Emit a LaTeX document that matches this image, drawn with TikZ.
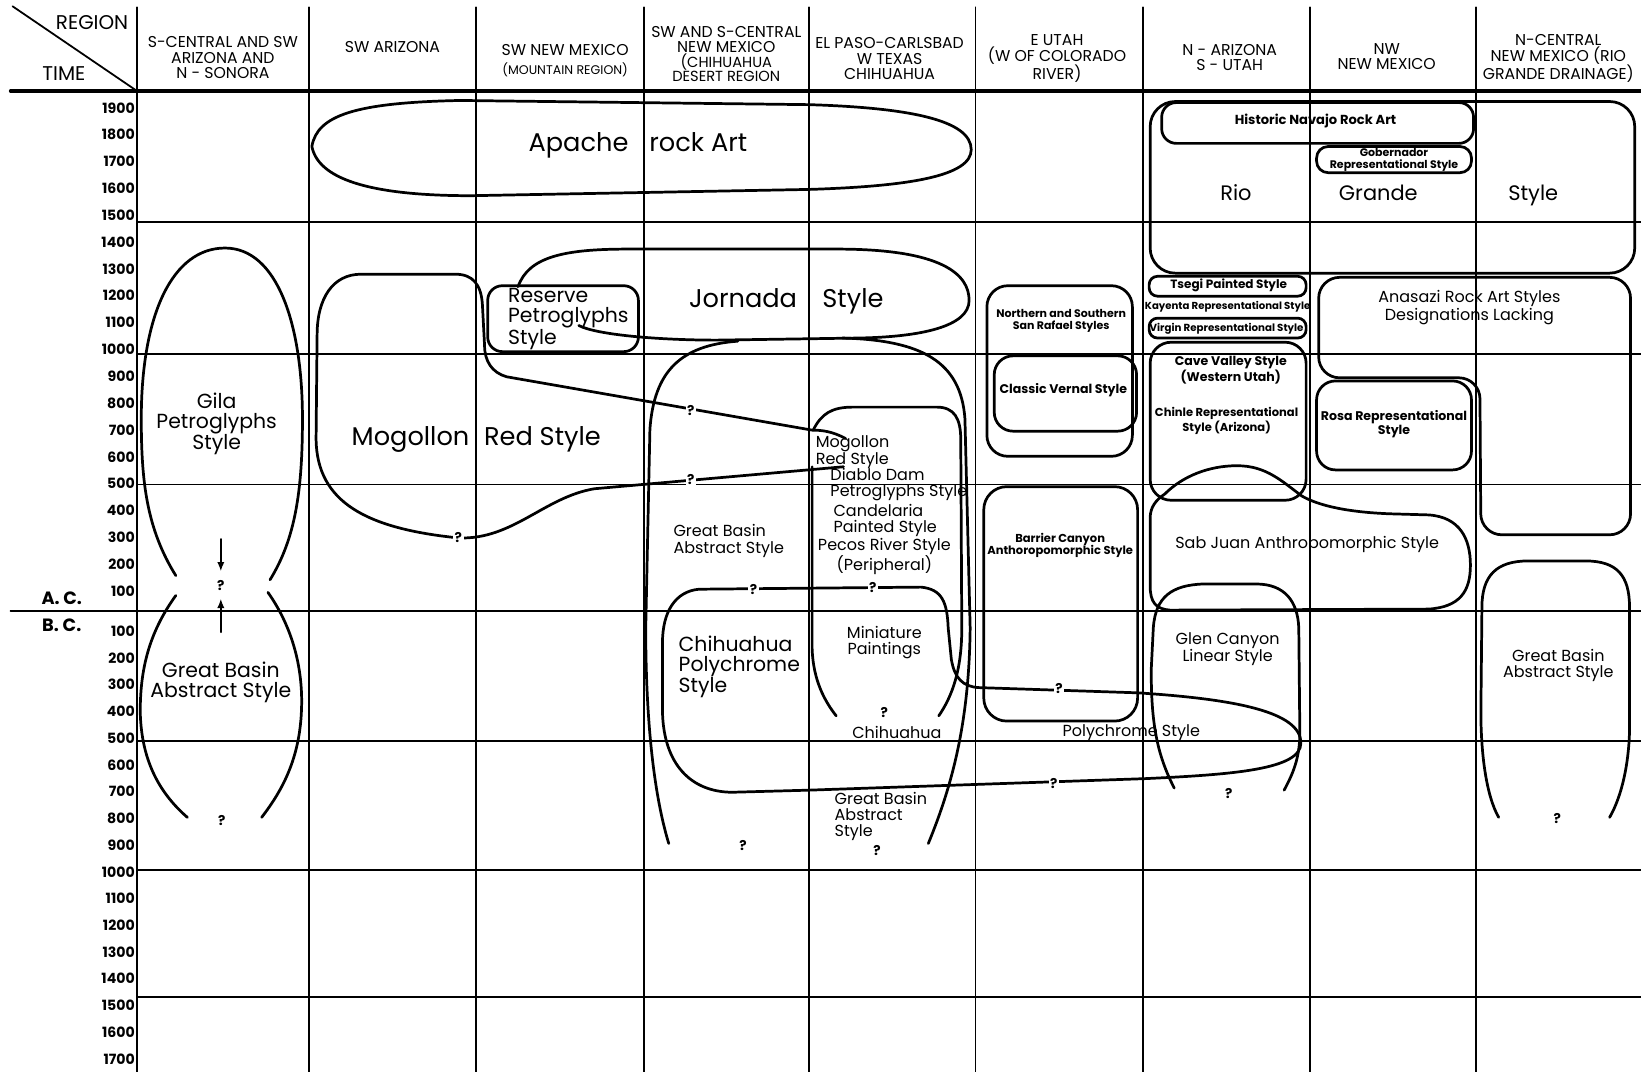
\documentclass[tikz,border=0pt]{standalone}
\usepackage{fontspec}
\setmainfont{Poppins}
\usetikzlibrary{arrows.meta}

\begin{document}
\begin{tikzpicture}[x=1pt,y=-1pt,line join=round,line cap=round]
    \tikzset{rule/.style={line width=1.7pt},
      blob/.style={line width=2.6pt},
      hdr/.style={font=\fontsize{15}{15}\selectfont,align=center},
      yr/.style={font=\bfseries\fontsize{13.5}{13.5}\selectfont,anchor=east,inner sep=0pt},
      lg/.style={font=\fontsize{24.5}{25}\selectfont},
      big/.style={font=\fontsize{19.5}{19}\selectfont,align=center},
      md/.style={font=\fontsize{15.3}{15.5}\selectfont,align=center},
      sm/.style={font=\bfseries\fontsize{11}{12}\selectfont,align=center,inner sep=1pt},
      qm/.style={font=\bfseries\fontsize{13}{13}\selectfont,fill=white,inner sep=1.5pt}}
    \useasboundingbox (0,0) rectangle (1568,1024);
    % grid
    \foreach \x in {131,295,455,615,773,932,1092,1252,1410}
      \draw[rule] (\x,7) -- (\x,1024);
    \foreach \y in {212,338,463,708,831,953}
      \draw[rule] (131,\y) -- (1568,\y);
    \draw[rule] (10,584) -- (1568,584);
    \draw[line width=3pt] (10,87) -- (1568,87);
    \draw[rule] (12,6) -- (131,87);
    \node[hdr,font=\fontsize{19}{19}\selectfont] (region) at (88,22) {REGION};
    \node[hdr,font=\fontsize{19}{19}\selectfont] (time) at (61,70) {TIME};
    \foreach \yr [count=\i from 0] in {1900,1800,...,100}
      \node[yr] (t\yr) at (129,{103+25.65*\i}) {\yr};
    \foreach \yr [count=\i from 0] in {100,200,...,1700}
      \node[yr] (b\yr) at (129,{603+25.55*\i}) {\yr};
    \node[font=\bfseries\fontsize{17}{17}\selectfont] (ac) at (59,572) {A. C.};
    \node[font=\bfseries\fontsize{17}{17}\selectfont] (bc) at (59,597) {B. C.};
    % column heads
    \node[hdr] (h1) at (213,55) {S-CENTRAL AND SW\\ARIZONA AND\\N - SONORA};
    \node[hdr] (h2) at (375,45) {SW ARIZONA};
    \node[hdr] (h3) at (540,58) {SW NEW MEXICO\\[3pt]{\fontsize{12}{12}\selectfont (MOUNTAIN REGION)}};
    \node[hdr,font=\fontsize{15}{14}\selectfont] (h4) at (694,52) {SW AND S-CENTRAL\\NEW MEXICO\\{\fontsize{14}{14}\selectfont (CHIHUAHUA}\\{\fontsize{14}{14}\selectfont DESERT REGION}};
    \node[hdr] (h5) at (850,56) {EL PASO-CARLSBAD\\W TEXAS\\CHIHUAHUA};
    \node[hdr] (h6) at (1010,56) {E UTAH\\(W OF COLORADO\\RIVER)};
    \node[hdr] (h7) at (1175,55) {N - ARIZONA\\S - UTAH};
    \node[hdr] (h8) at (1325,54) {NW\\NEW MEXICO};
    \node[hdr] (h9) at (1489,56) {N-CENTRAL\\NEW MEXICO (RIO\\GRANDE DRAINAGE)};
    % style areas
    \draw[blob] (298,140) .. controls (303,110) and (340,98) .. (440,96) -- (773,100) .. controls (870,103) and (928,115) .. (928,143) .. controls (928,168) and (870,178) .. (773,181) -- (450,187) .. controls (350,187) and (304,170) .. (298,140) -- cycle;
    \draw[blob,rounded corners=24] (1099,97) rectangle (1562,261);
    \draw[blob,rounded corners=14] (1110,98) rectangle (1408,137);
    \draw[blob,rounded corners=11] (1258,140) rectangle (1406,165);
    \draw[blob] (168,550) .. controls (140,505) and (135,460) .. (135,400) .. controls (135,300) and (165,237) .. (215,237) .. controls (265,237) and (289,310) .. (289,400) .. controls (289,470) and (282,515) .. (258,554);
    \draw[blob] (168,569) .. controls (142,605) and (134,640) .. (134,680) .. controls (135,730) and (155,760) .. (179,781);
    \draw[blob] (256,566) .. controls (280,600) and (290,640) .. (288,680) .. controls (286,725) and (270,755) .. (250,781);
    \draw[-{Latex[length=9pt,width=7pt]},line width=1.7pt] (211,515) -- (211,546);
    \draw[-{Latex[length=9pt,width=7pt]},line width=1.7pt] (211,604) -- (211,572);
    \draw[blob] (808,419) .. controls (795,412) and (785,411) .. (776,411) -- (484,360) .. controls (470,356) and (463,345) .. (463,330) -- (461,292) .. controls (460,272) and (452,262) .. (435,262) -- (345,262) .. controls (318,262) and (303,285) .. (303,320) -- (302,420) .. controls (303,480) and (350,505) .. (438,514) .. controls (490,516) and (520,475) .. (568,467) -- (806,446);
    \draw[blob,rounded corners=14] (466,273) rectangle (610,336);
    \draw[blob] (495,274) .. controls (505,245) and (540,238) .. (600,238) -- (800,238) .. controls (900,238) and (926,262) .. (926,287) .. controls (926,312) and (880,322) .. (820,323) -- (685,325) .. controls (630,325) and (570,320) .. (553,311);
    \draw[blob] (705,326) .. controls (650,330) and (625,355) .. (621,410) -- (617,600) .. controls (617,690) and (625,760) .. (639,806);
    \draw[blob] (805,323) .. controls (880,325) and (918,345) .. (922,400) -- (927,600) .. controls (926,690) and (910,750) .. (887,806);
    \draw[blob] (777,411) .. controls (785,395) and (795,389) .. (815,389) -- (895,389) .. controls (912,389) and (918,400) .. (918,420) -- (919,600) .. controls (919,640) and (910,665) .. (897,684);
    \draw[blob] (776,446) -- (776,620) .. controls (777,650) and (788,670) .. (799,684);
    \draw[blob] (668,563) -- (880,561) .. controls (900,563) and (905,575) .. (906,600) -- (909,630) .. controls (912,648) and (920,656) .. (935,657) -- (1087,662) .. controls (1180,668) and (1243,680) .. (1243,710) .. controls (1243,735) and (1180,740) .. (1094,744) -- (773,755) -- (700,757) .. controls (660,757) and (634,730) .. (633,680) -- (633,614) .. controls (633,585) and (645,565) .. (668,563) -- cycle;
    \draw[blob,rounded corners=20] (943,273) rectangle (1082,436);
    \draw[blob,rounded corners=18] (950,340) rectangle (1086,412);
    \draw[blob,rounded corners=22] (940,465) rectangle (1087,689);
    \draw[blob,rounded corners=8] (1098,264) rectangle (1248,283);
    \draw[blob,rounded corners=8] (1098,304) rectangle (1248,323);
    \draw[blob,rounded corners=20] (1099,327) rectangle (1248,478);
    \draw[blob] (1113,472) .. controls (1130,455) and (1155,445) .. (1182,445) .. controls (1210,445) and (1225,460) .. (1244,474) .. controls (1265,486) and (1300,490) .. (1330,491) -- (1365,492) .. controls (1395,494) and (1405,515) .. (1405,540) .. controls (1405,565) and (1395,580) .. (1365,582) -- (1118,583) .. controls (1104,582) and (1099,575) .. (1099,560) -- (1099,495) .. controls (1099,485) and (1104,478) .. (1113,472) -- cycle;
    \draw[blob] (1122,753) .. controls (1105,720) and (1100,690) .. (1100,640) -- (1102,600) .. controls (1104,570) and (1120,559) .. (1150,558) -- (1200,558) .. controls (1228,558) and (1240,575) .. (1241,600) -- (1242,700) .. controls (1242,725) and (1235,740) .. (1227,755);
    \draw[blob,rounded corners=20] (1260,265) -- (1558,265) -- (1558,511) -- (1415,511) -- (1414,361) -- (1260,361) -- cycle;
    \draw[blob,rounded corners=18] (1258,364) rectangle (1406,449);
    \draw[blob] (1432,781) .. controls (1420,760) and (1415,720) .. (1415,680) -- (1416,580) .. controls (1416,550) and (1430,536) .. (1460,536) -- (1515,536) .. controls (1545,536) and (1557,550) .. (1557,580) -- (1557,700) .. controls (1556,730) and (1550,760) .. (1538,781);
    % names of the styles
    \node[lg,anchor=base east] (apa) at (604,145) {Apache};
    \node[lg,anchor=base west] (rock) at (617,145) {rock Art};
    \node[lg,anchor=base] (jor) at (710,294) {Jornada};
    \node[lg,anchor=base] (jsty) at (815,294) {Style};
    \node[lg,anchor=base east] (mog) at (452,426) {Mogollon};
    \node[lg,anchor=base west] (mred) at (459,426) {Red Style};
    \node[big,font=\fontsize{20}{20}\selectfont,anchor=base] (rio) at (1181,192) {Rio};
    \node[big,font=\fontsize{20}{20}\selectfont,anchor=base] (gran) at (1317,192) {Grande};
    \node[big,font=\fontsize{20}{20}\selectfont,anchor=base] (rsty) at (1465,192) {Style};
    \node[big] (gila) at (207,405) {Gila\\Petroglyphs\\Style};
    \node[big] (gb1) at (211,652) {Great Basin\\Abstract Style};
    \node[big,align=left,anchor=west] (res) at (482,305) {Reserve\\Petroglyphs\\Style};
    \node[big,align=left,anchor=west] (chp) at (645,637) {Chihuahua\\Polychrome\\Style};
    \node[md,align=left,anchor=west] (gb4) at (640,517) {Great Basin\\Abstract Style};
    \node[md,align=left,anchor=west] (mr5) at (776,432) {Mogollon\\Red Style};
    \node[md,align=left,anchor=west] (dd) at (790,463) {Diablo Dam\\Petroglyphs Style};
    \node[md,align=left,anchor=west] (cand) at (793,497) {Candelaria\\Painted Style};
    \node[md] (pecos) at (845,532) {Pecos River Style\\(Peripheral)};
    \node[md] (mini) at (845,614) {Miniature\\Paintings};
    \node[md] (chi5) at (857,700) {Chihuahua};
    \node[md] (poly) at (1081,700) {Polychrome Style};
    \node[md,align=left,anchor=west] (gb5) at (794,780) {Great Basin\\Abstract\\Style};
    \node[md] (sab) at (1249,520) {Sab Juan Anthropomorphic Style};
    \node[md] (glen) at (1173,620) {Glen Canyon\\Linear Style};
    \node[md] (anas) at (1404,294) {Anasazi Rock Art Styles\\Designations Lacking};
    \node[md] (gb9) at (1489,636) {Great Basin\\Abstract Style};
    \node[sm,font=\bfseries\fontsize{12.5}{12.5}\selectfont] (nav) at (1257,116) {Historic Navajo Rock Art};
    \node[sm,font=\bfseries\fontsize{10.5}{11}\selectfont] (gob) at (1332,153) {Gobernador\\Representational Style};
    \node[sm,font=\bfseries\fontsize{10.5}{11.5}\selectfont] (raf) at (1014,307) {Northern and Southern\\San Rafael Styles};
    \node[sm,font=\bfseries\fontsize{12}{12}\selectfont] (vern) at (1016,373) {Classic Vernal Style};
    \node[sm] (barr) at (1013,521) {Barrier Canyon\\Anthoropomorphic Style};
    \node[sm,font=\bfseries\fontsize{11.5}{12}\selectfont] (tseg) at (1174,273) {Tsegi Painted Style};
    \node[sm,font=\bfseries\fontsize{9.7}{10}\selectfont] (kay) at (1173,293) {Kayenta Representational Style};
    \node[sm,font=\bfseries\fontsize{9.8}{10}\selectfont] (virg) at (1172,314) {Virgin Representational Style};
    \node[sm,font=\bfseries\fontsize{12}{12.5}\selectfont] (cave) at (1176,354) {Cave Valley Style\\(Western Utah)};
    \node[sm] (chin) at (1172,402) {Chinle Representational\\Style (Arizona)};
    \node[sm,font=\bfseries\fontsize{12}{13}\selectfont] (rosa) at (1332,405) {Rosa Representational\\Style};
    % question marks
    \node[qm] (q1) at (211,559) {?};
    \node[qm] (q2) at (212,784) {?};
    \node[qm] (q3) at (438,514) {?};
    \node[qm] (q4) at (660,392) {?};
    \node[qm] (q5) at (660,458) {?};
    \node[qm] (q6) at (720,563) {?};
    \node[qm] (q7) at (834,561) {?};
    \node[qm] (q8) at (845,681) {?};
    \node[qm] (q9) at (1012,658) {?};
    \node[qm] (q10) at (1007,749) {?};
    \node[qm] (q11) at (710,808) {?};
    \node[qm,fill=none] (q12) at (838,813) {?};
    \node[qm] (q13) at (1174,758) {?};
    \node[qm] (q14) at (1488,782) {?};
  \end{tikzpicture}
\end{document}
